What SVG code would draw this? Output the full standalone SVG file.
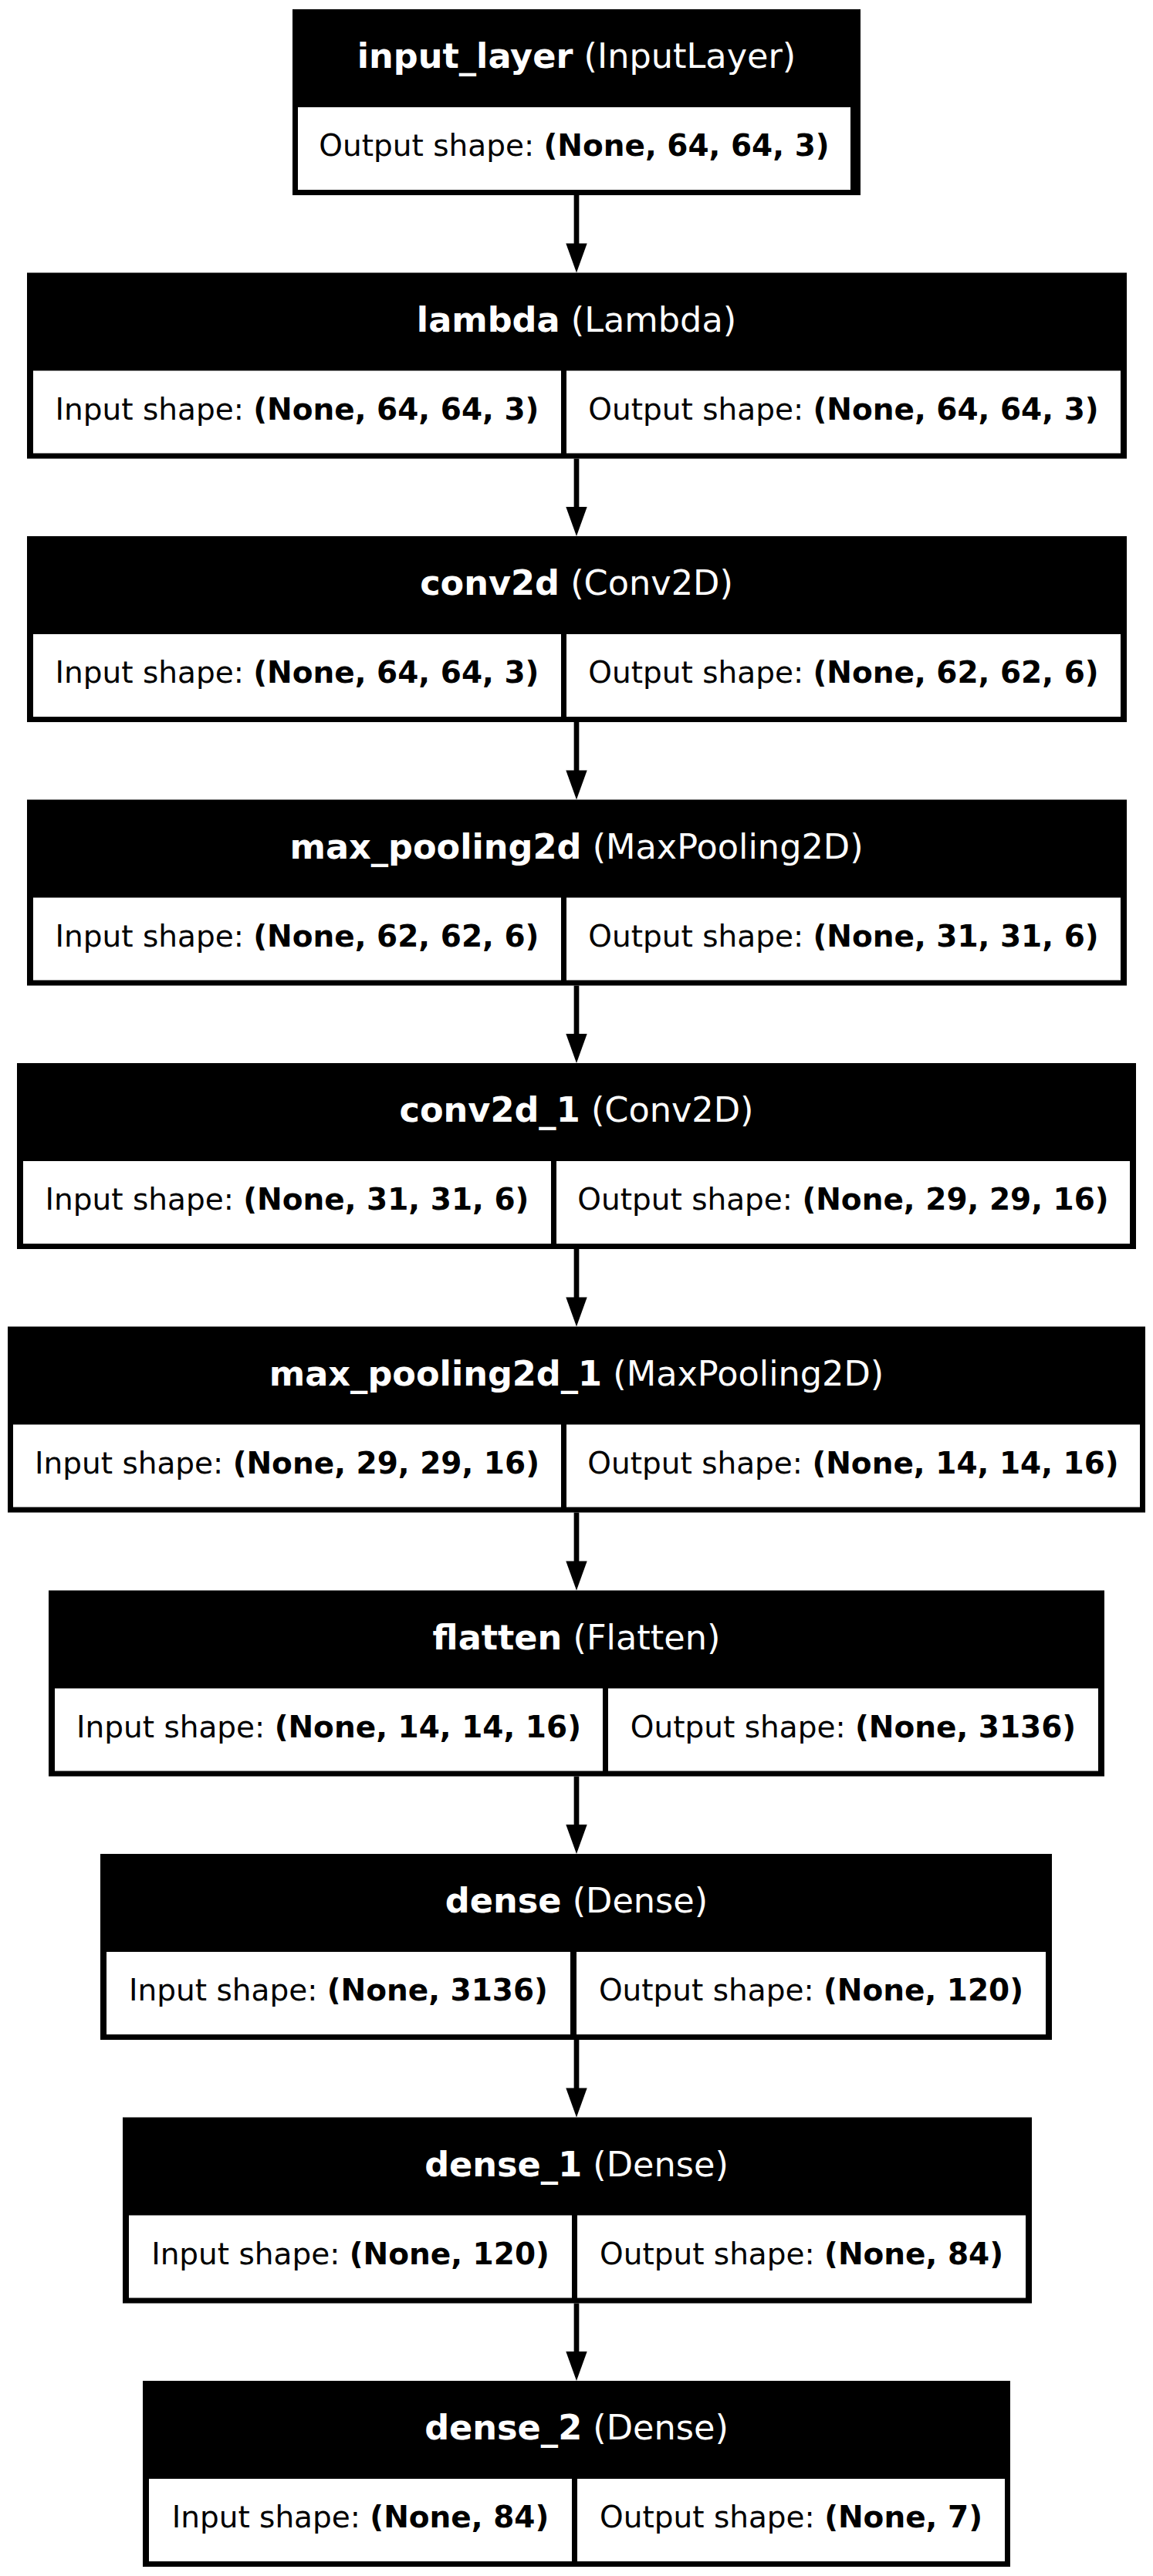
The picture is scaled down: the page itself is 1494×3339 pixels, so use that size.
<svg xmlns="http://www.w3.org/2000/svg" width="1494" height="3339" viewBox="0 0 1494 3339">
<style>
.outer{fill:#000}
.cell{fill:#fff}
.hd{font-family:"DejaVu Sans",sans-serif;font-size:44.6px;fill:#fff;text-anchor:middle}
.bd{font-family:"DejaVu Sans",sans-serif;font-size:39px;fill:#000;text-anchor:middle}
.b{font-weight:bold}
.edge{stroke:#000;stroke-width:6.7;fill:none}
.head{fill:#000}
</style>
<rect x="0" y="0" width="1494" height="3339" fill="#fff"/>
<g id="connectors">
<line class="edge" x1="747" y1="253" x2="747" y2="316.5"/><polygon class="head" points="733.3,315.5 760.7,315.5 747,353.5"/>
<line class="edge" x1="747" y1="594.5" x2="747" y2="658"/><polygon class="head" points="733.3,657 760.7,657 747,695"/>
<line class="edge" x1="747" y1="936" x2="747" y2="999.5"/><polygon class="head" points="733.3,998.5 760.7,998.5 747,1036.5"/>
<line class="edge" x1="747" y1="1277.5" x2="747" y2="1341"/><polygon class="head" points="733.3,1340 760.7,1340 747,1378"/>
<line class="edge" x1="747" y1="1619" x2="747" y2="1682.5"/><polygon class="head" points="733.3,1681.5 760.7,1681.5 747,1719.5"/>
<line class="edge" x1="747" y1="1960.5" x2="747" y2="2024.5"/><polygon class="head" points="733.3,2023.5 760.7,2023.5 747,2061.5"/>
<line class="edge" x1="747" y1="2302.5" x2="747" y2="2366"/><polygon class="head" points="733.3,2365 760.7,2365 747,2403"/>
<line class="edge" x1="747" y1="2644" x2="747" y2="2707.5"/><polygon class="head" points="733.3,2706.5 760.7,2706.5 747,2744.5"/>
<line class="edge" x1="747" y1="2985.5" x2="747" y2="3049"/><polygon class="head" points="733.3,3048 760.7,3048 747,3086"/>
</g>
<g id="input_layer">
<rect class="outer" x="379" y="12" width="736" height="241"/>
<rect class="cell" x="386" y="139" width="716" height="107"/>
<text class="hd" x="747" y="88"><tspan class="b">input_layer</tspan> (InputLayer)</text>
<text class="bd" x="744" y="202">Output shape: <tspan class="b">(None, 64, 64, 3)</tspan></text>
</g>
<g id="lambda">
<rect class="outer" x="35" y="353.5" width="1425" height="241"/>
<rect class="cell" x="43" y="480.5" width="684" height="107"/>
<rect class="cell" x="734" y="480.5" width="718" height="107"/>
<text class="hd" x="747" y="429.5"><tspan class="b">lambda</tspan> (Lambda)</text>
<text class="bd" x="385" y="543.5">Input shape: <tspan class="b">(None, 64, 64, 3)</tspan></text>
<text class="bd" x="1093" y="543.5">Output shape: <tspan class="b">(None, 64, 64, 3)</tspan></text>
</g>
<g id="conv2d">
<rect class="outer" x="35" y="695" width="1425" height="241"/>
<rect class="cell" x="43" y="822" width="684" height="107"/>
<rect class="cell" x="734" y="822" width="718" height="107"/>
<text class="hd" x="747" y="771"><tspan class="b">conv2d</tspan> (Conv2D)</text>
<text class="bd" x="385" y="885">Input shape: <tspan class="b">(None, 64, 64, 3)</tspan></text>
<text class="bd" x="1093" y="885">Output shape: <tspan class="b">(None, 62, 62, 6)</tspan></text>
</g>
<g id="max_pooling2d">
<rect class="outer" x="35" y="1036.5" width="1425" height="241"/>
<rect class="cell" x="43" y="1163.5" width="684" height="107"/>
<rect class="cell" x="734" y="1163.5" width="718" height="107"/>
<text class="hd" x="747" y="1112.5"><tspan class="b">max_pooling2d</tspan> (MaxPooling2D)</text>
<text class="bd" x="385" y="1226.5">Input shape: <tspan class="b">(None, 62, 62, 6)</tspan></text>
<text class="bd" x="1093" y="1226.5">Output shape: <tspan class="b">(None, 31, 31, 6)</tspan></text>
</g>
<g id="conv2d_1">
<rect class="outer" x="22" y="1378" width="1450" height="241"/>
<rect class="cell" x="30" y="1505" width="684" height="107"/>
<rect class="cell" x="721" y="1505" width="743" height="107"/>
<text class="hd" x="747" y="1454"><tspan class="b">conv2d_1</tspan> (Conv2D)</text>
<text class="bd" x="372" y="1568">Input shape: <tspan class="b">(None, 31, 31, 6)</tspan></text>
<text class="bd" x="1092.5" y="1568">Output shape: <tspan class="b">(None, 29, 29, 16)</tspan></text>
</g>
<g id="max_pooling2d_1">
<rect class="outer" x="10" y="1719.5" width="1474" height="241"/>
<rect class="cell" x="17" y="1846.5" width="710" height="107"/>
<rect class="cell" x="734" y="1846.5" width="743" height="107"/>
<text class="hd" x="747" y="1795.5"><tspan class="b">max_pooling2d_1</tspan> (MaxPooling2D)</text>
<text class="bd" x="372" y="1909.5">Input shape: <tspan class="b">(None, 29, 29, 16)</tspan></text>
<text class="bd" x="1105.5" y="1909.5">Output shape: <tspan class="b">(None, 14, 14, 16)</tspan></text>
</g>
<g id="flatten">
<rect class="outer" x="63" y="2061.5" width="1368" height="241"/>
<rect class="cell" x="71" y="2188.5" width="710" height="107"/>
<rect class="cell" x="788" y="2188.5" width="635" height="107"/>
<text class="hd" x="747" y="2137.5"><tspan class="b">flatten</tspan> (Flatten)</text>
<text class="bd" x="426" y="2251.5">Input shape: <tspan class="b">(None, 14, 14, 16)</tspan></text>
<text class="bd" x="1105.5" y="2251.5">Output shape: <tspan class="b">(None, 3136)</tspan></text>
</g>
<g id="dense">
<rect class="outer" x="130" y="2403" width="1233" height="241"/>
<rect class="cell" x="138" y="2530" width="601" height="107"/>
<rect class="cell" x="747" y="2530" width="608" height="107"/>
<text class="hd" x="747" y="2479"><tspan class="b">dense</tspan> (Dense)</text>
<text class="bd" x="438.5" y="2593">Input shape: <tspan class="b">(None, 3136)</tspan></text>
<text class="bd" x="1051" y="2593">Output shape: <tspan class="b">(None, 120)</tspan></text>
</g>
<g id="dense_1">
<rect class="outer" x="159" y="2744.5" width="1178" height="241"/>
<rect class="cell" x="167" y="2871.5" width="574" height="107"/>
<rect class="cell" x="748" y="2871.5" width="581" height="107"/>
<text class="hd" x="747" y="2820.5"><tspan class="b">dense_1</tspan> (Dense)</text>
<text class="bd" x="454" y="2934.5">Input shape: <tspan class="b">(None, 120)</tspan></text>
<text class="bd" x="1038.5" y="2934.5">Output shape: <tspan class="b">(None, 84)</tspan></text>
</g>
<g id="dense_2">
<rect class="outer" x="185" y="3086" width="1124" height="241"/>
<rect class="cell" x="193" y="3213" width="548" height="107"/>
<rect class="cell" x="748" y="3213" width="554" height="107"/>
<text class="hd" x="747" y="3162"><tspan class="b">dense_2</tspan> (Dense)</text>
<text class="bd" x="467" y="3276">Input shape: <tspan class="b">(None, 84)</tspan></text>
<text class="bd" x="1025" y="3276">Output shape: <tspan class="b">(None, 7)</tspan></text>
</g>
</svg>
